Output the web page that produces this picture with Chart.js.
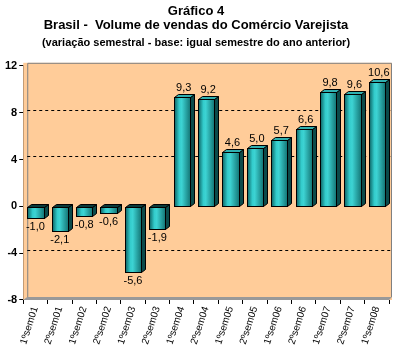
<!DOCTYPE html>
<html>
<head>
<meta charset="utf-8">
<script src="https://cdn.jsdelivr.net/npm/chart.js@4/dist/chart.umd.min.js"></script>
<style>
  html, body { margin: 0; padding: 0; background: #ffffff; }
  #wrap { width: 396px; height: 358px; }
</style>
</head>
<body>
<div id="wrap"><canvas id="chart"></canvas></div>
<script>
// Data
const labels = ['1ºsem01', '2ºsem01', '1ºsem02', '2ºsem02', '1ºsem03', '2ºsem03', '1ºsem04', '2ºsem04',
                '1ºsem05', '2ºsem05', '1ºsem06', '2ºsem06', '1ºsem07', '2ºsem07', '1ºsem08'];
const values = [-1.0, -2.1, -0.8, -0.6, -5.6, -1.9, 9.3, 9.2, 4.6, 5.0, 5.7, 6.6, 9.8, 9.6, 10.6];
const yTicks = [-8, -4, 0, 4, 8, 12];

const FONT = "'Liberation Sans', Arial, sans-serif";
const DEPTH = 4;

// Peach wall, grey floor/side and dashed grid
const wallPlugin = {
    id: 'wall',
    beforeDatasetsDraw(chart) {
        const { ctx, chartArea: a, scales: { y } } = chart;
        ctx.save();
        ctx.fillStyle = '#ffcc99';
        ctx.fillRect(a.left, a.top - 3, a.right - a.left + 3, a.bottom - a.top + 3);
        // back wall outline
        ctx.strokeStyle = '#808080';
        ctx.lineWidth = 1;
        ctx.beginPath();
        ctx.moveTo(a.left + DEPTH + 0.5, a.bottom - 3);
        ctx.lineTo(a.left + DEPTH + 0.5, a.top - 2.5);
        ctx.lineTo(a.right + 2.5, a.top - 2.5);
        ctx.lineTo(a.right + 2.5, a.bottom - 3);
        ctx.stroke();
        // floor
        ctx.fillStyle = '#999999';
        ctx.beginPath();
        ctx.moveTo(a.left, a.bottom);
        ctx.lineTo(a.left + DEPTH, a.bottom - 3);
        ctx.lineTo(a.right + 3, a.bottom - 3);
        ctx.lineTo(a.right, a.bottom);
        ctx.closePath();
        ctx.fill();
        // dashed grid on back wall
        ctx.strokeStyle = '#000000';
        ctx.setLineDash([3, 3]);
        yTicks.forEach(v => {
            if (v === 0 || v === yTicks[0] || v === yTicks[yTicks.length - 1]) return;
            const py = Math.round(y.getPixelForValue(v)) - 2.5;
            ctx.beginPath();
            ctx.moveTo(a.left + DEPTH, py);
            ctx.lineTo(a.right + 3, py);
            ctx.stroke();
        });
        ctx.restore();
    }
};

// Cylinder-like bars with side and top faces, plus value labels
const barPlugin = {
    id: 'bars3d',
    afterDatasetsDraw(chart) {
        const { ctx } = chart;
        const meta = chart.getDatasetMeta(0);
        ctx.save();
        meta.data.forEach((bar, i) => {
            const p = bar.getProps(['x', 'y', 'base', 'width'], true);
            const l = Math.round(p.x - p.width / 2) + 0.5;
            const r = Math.round(p.x + p.width / 2) + 0.5;
            const top = Math.round(Math.min(p.y, p.base)) + 0.5;
            const bot = Math.round(Math.max(p.y, p.base)) + 0.5;
            const dy = 3;

            const g = ctx.createLinearGradient(l, 0, r, 0);
            g.addColorStop(0, '#0e6666');
            g.addColorStop(0.3, '#33cccc');
            g.addColorStop(0.45, '#3dd3d3');
            g.addColorStop(1, '#137474');
            ctx.fillStyle = g;
            ctx.fillRect(l, top, r - l, bot - top);

            ctx.strokeStyle = '#000000';
            ctx.lineWidth = 1;
            // side face
            ctx.fillStyle = '#0b4a4a';
            ctx.beginPath();
            ctx.moveTo(r, top);
            ctx.lineTo(r + DEPTH, top - dy);
            ctx.lineTo(r + DEPTH, bot - dy);
            ctx.lineTo(r, bot);
            ctx.closePath();
            ctx.fill();
            ctx.stroke();
            // top face
            ctx.fillStyle = values[i] >= 0 ? '#2fb0b0' : '#0a3a3a';
            ctx.beginPath();
            ctx.moveTo(l, top);
            ctx.lineTo(l + DEPTH, top - dy);
            ctx.lineTo(r + DEPTH, top - dy);
            ctx.lineTo(r, top);
            ctx.closePath();
            ctx.fill();
            ctx.stroke();
            ctx.strokeRect(l, top, r - l, bot - top);

            // label
            ctx.fillStyle = '#000000';
            ctx.font = '11px ' + FONT;
            ctx.textAlign = 'center';
            const txt = values[i].toFixed(1).replace('.', ',');
            if (values[i] >= 0) {
                ctx.textBaseline = 'bottom';
                ctx.fillText(txt, p.x + 2, top - 4);
            } else {
                ctx.textBaseline = 'top';
                ctx.fillText(txt, p.x, bot + 3);
            }
        });
        ctx.restore();
    }
};

const ctx = document.getElementById('chart').getContext('2d');
const chart = new Chart(ctx, {
    type: 'bar',
    data: {
        labels: labels,
        datasets: [{
            data: values,
            backgroundColor: 'rgba(0,0,0,0)',
            borderWidth: 0,
            barPercentage: 0.7,
            categoryPercentage: 0.95
        }]
    },
    options: {
        responsive: true,
        maintainAspectRatio: false,
        animation: false,
        layout: { padding: { left: 3, right: 7, top: 0, bottom: 11 } },
        plugins: {
            legend: { display: false },
            tooltip: { enabled: false },
            title: {
                display: true,
                text: ['Gráfico 4', 'Brasil -  Volume de vendas do Comércio Varejista'],
                color: '#000000',
                font: { family: FONT, size: 13, weight: 'bold', lineHeight: 1.1 },
                padding: { top: 4, bottom: 4 }
            },
            subtitle: {
                display: true,
                text: '(variação semestral - base: igual semestre do ano anterior)',
                color: '#000000',
                font: { family: FONT, size: 11, weight: 'bold' },
                padding: { top: 0, bottom: 16 }
            }
        },
        scales: {
            x: {
                grid: {
                    display: true,
                    offset: true,
                    drawOnChartArea: false,
                    drawTicks: true,
                    tickLength: 4,
                    tickColor: '#000000'
                },
                border: { display: true, color: '#000000', width: 1 },
                ticks: {
                    color: '#000000',
                    font: { family: FONT, size: 10 },
                    minRotation: 72,
                    maxRotation: 72,
                    autoSkip: false,
                    padding: 1
                }
            },
            y: {
                min: yTicks[0],
                max: yTicks[yTicks.length - 1],
                afterBuildTicks(scale) {
                    scale.ticks = yTicks.map(v => ({ value: v }));
                },
                grid: {
                    display: true,
                    drawOnChartArea: false,
                    drawTicks: true,
                    tickLength: 4,
                    tickColor: '#000000'
                },
                border: { display: true, color: '#000000', width: 1 },
                ticks: {
                    color: '#000000',
                    font: { family: FONT, size: 11, weight: 'bold' },
                    padding: 2
                }
            }
        }
    },
    plugins: [wallPlugin, barPlugin]
});
</script>
</body>
</html>
